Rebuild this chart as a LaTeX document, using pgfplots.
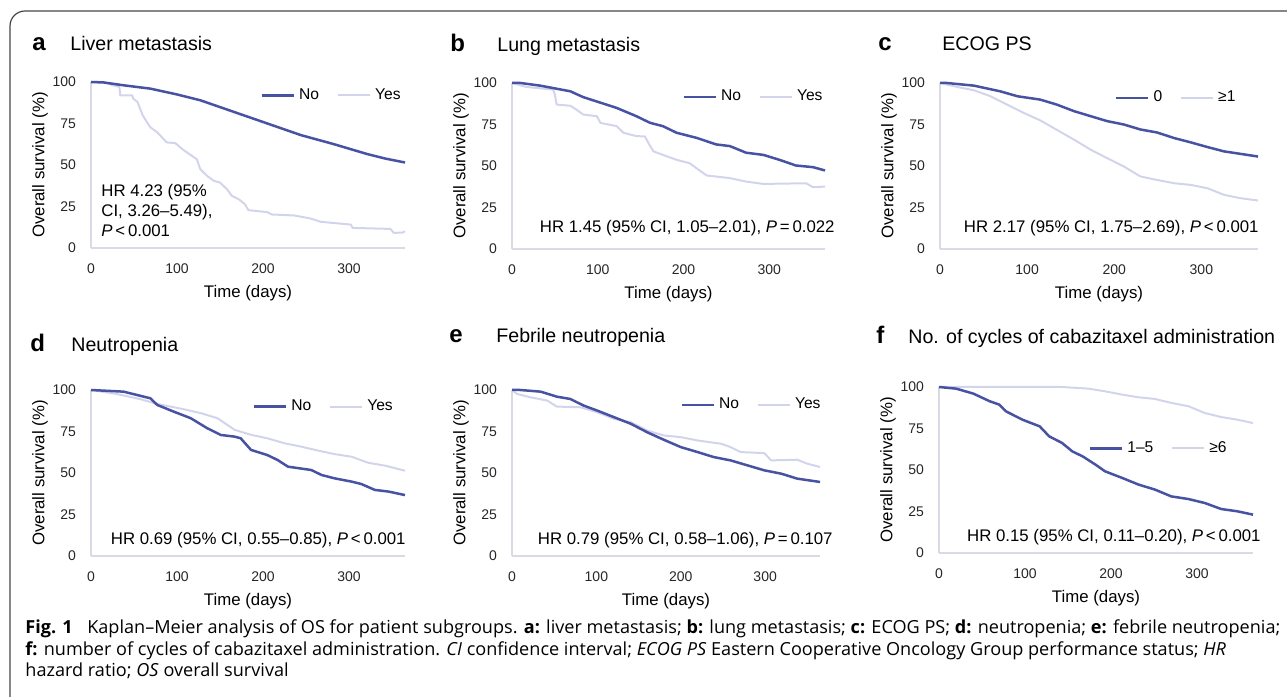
\documentclass[border=0pt]{standalone}
\usepackage{fontspec}
\setmainfont{Liberation Sans}
\newfontfamily\capfont{Open Sans}
\usepackage{graphicx}
\usepackage{pgfplots}
\pgfplotsset{compat=1.18}

\definecolor{kmdark}{RGB}{72,82,163}
\definecolor{kmlight}{RGB}{210,212,236}
\definecolor{axcol}{RGB}{218,218,230}
\definecolor{frame}{RGB}{70,70,70}

\pgfplotsset{
  km/.style={
    scale only axis, height=83pt,
    xmin=0, xmax=365, ymin=0, ymax=100,
    xtick={0,100,200,300}, ytick={0,25,50,75,100},
    axis x line*=bottom, axis y line*=left,
    axis line style={-, draw=axcol, line width=0.7pt},
    major tick length=0pt,
    /pgf/number format/assume math mode=true,
    tick label style={font=\fontsize{7}{8}\selectfont, text=black!85},
    xticklabel style={yshift=-4.5pt},
    yticklabel style={xshift=-4pt},
    xlabel={Time (days)}, ylabel={Overall survival (\%)},
    label style={font=\fontsize{8.4}{9}\selectfont},
    xlabel style={at={([yshift=-22.5pt]axis description cs:0.5,0)}, anchor=center},
    ylabel style={at={([xshift=-25.5pt]axis description cs:0,0.5)}, anchor=center},
    clip=false,
    legend columns=2, reverse legend,
    legend style={draw=none, fill=none, inner sep=0pt,
      font=\fontsize{7.8}{8}\selectfont,
      /tikz/every even column/.append style={column sep=7pt}},
    legend image code/.code={\draw[#1] (0pt,0pt) -- (16pt,0pt);},
  },
  yes/.style={color=kmlight, line width=1pt, line join=round},
  no/.style={color=kmdark, line width=1.25pt, line join=round},
}

\newcommand\panel[2]{\node[anchor=base west, inner sep=0pt, font=\fontsize{12}{12}\selectfont\bfseries] at (#1) {#2};}
\newcommand\ptitle[2]{\node[anchor=base west, inner sep=0pt, font=\fontsize{9.8}{10}\selectfont] at (#1) {#2};}
\newcommand\hr[2]{\node[anchor=base east, inner sep=0pt, font=\fontsize{8.4}{9}\selectfont] at (#1) {#2};}

\newsavebox\capA
\newsavebox\capB
\newsavebox\capC
\newdimen\capw
\newcommand\capsize{\capfont\fontsize{9}{10}\selectfont}

\begin{document}%
\sbox\capA{\capsize\textbf{Fig. 1}\hspace{0.8em}Kaplan–Meier analysis of OS for patient subgroups. \textbf{a:} liver metastasis; \textbf{b:} lung metastasis; \textbf{c:} ECOG PS; \textbf{d:} neutropenia; \textbf{e:} febrile neutropenia;}%
\sbox\capB{\capsize\textbf{f:} number of cycles of cabazitaxel administration. \textit{CI} confidence interval; \textit{ECOG PS} Eastern Cooperative Oncology Group performance status; \textit{HR}}%
\sbox\capC{\capsize hazard ratio; \textit{OS} overall survival}%
\capw=\wd\capA\relax%
\pgfmathsetmacro\capsx{627.5pt/\capw}%
\begin{tikzpicture}[x=0.5pt, y=0.5pt]
\useasboundingbox (0,0) rectangle (1287,697);
\draw[frame, line width=0.6pt, rounded corners=7.5pt] (10,0) -- (10,686) -- (1287,686);
\coordinate (A) at (91,449);
\coordinate (B) at (512,448);
\coordinate (C) at (940,448);
\coordinate (D) at (91,141);
\coordinate (E) at (512,141);
\coordinate (F) at (939,144);

% ---------- a: liver metastasis
\panel{32,646}{a}
\ptitle{70,646}{Liver metastasis}
\begin{axis}[km, at={(A)}, anchor=south west, width=157pt,
  legend style={at={(axis description cs:1.0,0.92)}, anchor=east}]
\addplot[yes] coordinates {(0,100)(14,100)(26,98)(33,97)(34,92)(48,92)(49,90)(54,88)(60,80)
  (66,75)(69,72.7)(77,69.7)(88,63.6)(98,63.2)(106,59.6)(117,55.6)(123,53.5)(127,47.5)
  (135,43.4)(143,40.4)(150,39.4)(158,35.4)(164,31.3)(172,29.3)(179,26.3)(183,22.8)
  (205,21.6)(210,20.2)(236,19.6)(255,17.8)(267,15.8)(302,14.1)(304,12.1)(348,11.5)
  (352,9.1)(362,9.3)(365,10)};
\addlegendentry{Yes}
\addplot[no] coordinates {(0,100)(15,99.7)(38,98)(69,96)(100,92.5)(127,89)(166,82)(205,75)
  (244,68)(282,62.6)(321,56.6)(341,54)(365,51.5)};
\addlegendentry{No}
\end{axis}
\node[anchor=base west, inner sep=0pt, font=\fontsize{8.4}{9}\selectfont] at (101,500) {HR 4.23 (95\%};
\node[anchor=base west, inner sep=0pt, font=\fontsize{8.4}{9}\selectfont] at (101,480) {CI, 3.26–5.49),};
\node[anchor=base west, inner sep=0pt, font=\fontsize{8.4}{9}\selectfont] at (101,460) {\textit{P}\,<\,0.001};

% ---------- b: lung metastasis
\panel{450,645}{b}
\ptitle{497,645}{Lung metastasis}
\begin{axis}[km, at={(B)}, anchor=south west, width=156.5pt,
  legend style={at={(axis description cs:1.006,0.916)}, anchor=east}]
\addplot[yes] coordinates {(0,100)(17,97.6)(41,96.4)(48,96)(50,93)(52,87)(68,86.3)(75,84)
  (83,81)(99,80)(103,76)(122,74)(130,70)(145,68)(155,67.8)(160,63)(165,58.8)(176,56.7)
  (192,53.7)(207,51.7)(215,48.7)(227,44.3)(254,42.7)(273,40.6)(293,39.2)(343,39.6)
  (351,37.2)(365,37.6)};
\addlegendentry{Yes}
\addplot[no] coordinates {(0,100)(10,100)(33,98.4)(68,95)(83,91.5)(107,87.5)(122,85)(145,80)
  (161,76)(176,74)(192,70)(215,67)(238,63)(254,62)(273,58)(293,56.7)(312,53.7)
  (331,50.3)(351,49.3)(365,47.3)};
\addlegendentry{No}
\end{axis}
\hr{835,464}{HR 1.45 (95\% CI, 1.05–2.01), \textit{P}\,=\,0.022}

% ---------- c: ECOG PS
\panel{878,646}{c}
\ptitle{942,646}{ECOG PS}
\begin{axis}[km, at={(C)}, anchor=south west, width=159pt,
  legend style={at={(axis description cs:0.943,0.91)}, anchor=east}]
\addplot[yes] coordinates {(0,100)(20,97.6)(39,95.6)(58,92)(77,87)(96,82)(115,77.5)(134,71.8)
  (154,65.8)(173,59.8)(192,54.7)(211,49.7)(230,43.7)(249,41.6)(269,39.6)(288,38.6)
  (307,36.6)(326,32.6)(345,30.6)(365,29.2)};
\addlegendentry{≥1}
\addplot[no] coordinates {(0,100)(8,100)(39,98.4)(69,95)(89,92)(115,90)(134,87)(154,83)
  (173,80)(192,77)(211,75)(230,72)(249,70.2)(269,66.8)(288,64.2)(307,61.4)(326,58.8)
  (345,57.3)(365,55.7)};
\addlegendentry{0}
\end{axis}
\hr{1259,464}{HR 2.17 (95\% CI, 1.75–2.69), \textit{P}\,<\,0.001}

% ---------- d: neutropenia
\panel{30,345}{d}
\ptitle{71,345}{Neutropenia}
\begin{axis}[km, at={(D)}, anchor=south west, width=157pt,
  legend style={at={(axis description cs:0.975,0.90)}, anchor=east}]
\addplot[yes] coordinates {(0,100)(30,97.6)(58,94.4)(77,91.6)(108,88.4)(128,86)(147,83)
  (167,76)(186,73)(205,70.9)(225,67.9)(244,65.9)(264,63.5)(283,61.4)(303,59.8)
  (322,56.2)(342,54.4)(365,51.4)};
\addlegendentry{Yes}
\addplot[no] coordinates {(0,100)(38,99)(69,95)(77,91)(96,87)(116,83)(135,77)(151,72.9)
  (167,71.9)(174,70.9)(186,63.9)(205,60.8)(217,57.8)(229,53.8)(256,51.8)(268,48.8)
  (283,46.8)(303,44.8)(314,43.4)(330,39.8)(346,38.8)(365,36.7)};
\addlegendentry{No}
\end{axis}
\hr{406,152}{HR 0.69 (95\% CI, 0.55–0.85), \textit{P}\,<\,0.001}

% ---------- e: febrile neutropenia
\panel{449,354}{e}
\ptitle{496,354}{Febrile neutropenia}
\begin{axis}[km, at={(E)}, anchor=south west, width=154pt,
  legend style={at={(axis description cs:1.016,0.91)}, anchor=east}]
\addplot[yes] coordinates {(0,100)(6,97.6)(22,95.6)(42,93.6)(53,90)(81,89.6)(101,86.6)
  (121,82.6)(141,80.6)(160,75.6)(180,72.6)(200,71.6)(220,69.6)(248,67.6)(259,65.6)
  (271,62.6)(299,62)(307,57.6)(338,58)(350,55.6)(365,53.6)};
\addlegendentry{Yes}
\addplot[no] coordinates {(0,100)(10,100)(34,99)(53,96)(69,94.6)(85,90.6)(101,87.6)(121,83.6)
  (141,79.6)(160,74.6)(180,70)(200,65.6)(220,62.6)(239,59.6)(259,57.6)(279,54.6)
  (299,51.6)(319,49.6)(338,46.6)(365,44.6)};
\addlegendentry{No}
\end{axis}
\hr{833,152}{HR 0.79 (95\% CI, 0.58–1.06), \textit{P}\,=\,0.107}

% ---------- f: cycles of cabazitaxel
\panel{876,353}{f}
\ptitle{908,353}{No. of cycles of cabazitaxel administration}
\begin{axis}[km, at={(F)}, anchor=south west, width=157pt,
  legend style={at={(axis description cs:0.93,0.63)}, anchor=east}]
\addplot[yes] coordinates {(0,100)(143,100)(174,99)(193,97.4)(213,95.4)(232,93.8)(251,92.8)
  (270,90.4)(290,88.4)(309,84.3)(328,81.9)(347,80.3)(365,78.3)};
\addlegendentry{≥6}
\addplot[no] coordinates {(0,100)(20,99)(40,96)(59,91.4)(70,89.4)(78,85.3)(97,80.3)(117,76.3)
  (128,70.3)(143,66.3)(155,61.2)(167,58.2)(182,53.2)(193,49.2)(213,45.2)(232,41.2)
  (251,38.2)(270,34.1)(290,32.5)(309,30.1)(328,26.5)(347,25.1)(365,23.1)};
\addlegendentry{1–5}
\end{axis}
\hr{1261,155}{HR 0.15 (95\% CI, 0.11–0.20), \textit{P}\,<\,0.001}

% ---------- caption
\node[anchor=base west, inner sep=0pt] at (25,63) {\scalebox{\capsx}[1]{\usebox\capA}};
\node[anchor=base west, inner sep=0pt] at (25,41) {\scalebox{\capsx}[1]{\usebox\capB}};
\node[anchor=base west, inner sep=0pt] at (25,20) {\scalebox{\capsx}[1]{\usebox\capC}};
\end{tikzpicture}%
\end{document}
